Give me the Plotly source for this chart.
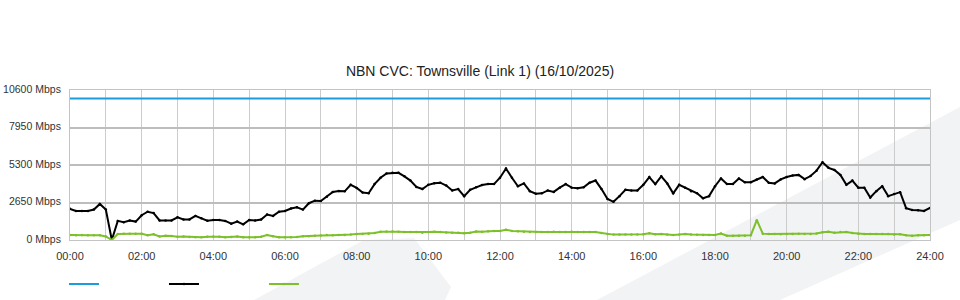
import plotly.graph_objects as go

# sample times (minutes after midnight, 10-minute samples)
minutes = list(range(0, 1441, 10))

capacity_mbps = [10000] * len(minutes)

download_mbps = [
    2200, 2050, 2050, 2050, 2150, 2550, 2150, 0, 1350, 1250,
    1370, 1300, 1750, 2000, 1900, 1380, 1380, 1380, 1600, 1450,
    1450, 1700, 1530, 1365, 1415, 1415, 1350, 1150, 1300, 1107,
    1415, 1380, 1450, 1800, 1700, 2000, 2050, 2220, 2310, 2150,
    2600, 2780, 2760, 3050, 3400, 3460, 3440, 3900, 3680, 3350,
    3300, 3950, 4400, 4700, 4750, 4750, 4500, 4200, 3750, 3600,
    3900, 4005, 4050, 3850, 3500, 3600, 3100, 3550, 3720, 3880,
    3960, 3950, 4400, 5050, 4400, 3800, 4000, 3450, 3270, 3300,
    3500, 3400, 3700, 3950, 3700, 3650, 3720, 4050, 4200, 3600,
    2900, 2700, 3100, 3550, 3500, 3500, 3900, 4450, 3950, 4500,
    4000, 3300, 3900, 3700, 3450, 3300, 2950, 3100, 3800, 4350,
    3950, 3960, 4350, 4080, 4080, 4280, 4450, 4050, 4000, 4280,
    4450, 4550, 4600, 4300, 4520, 4900, 5500, 5100, 4950, 4600,
    3900, 4200, 3700, 3700, 3000, 3450, 3800, 3100, 3250, 3380,
    2250, 2120, 2100, 2050, 2270,
]

upload_mbps = [
    350, 330, 360, 330, 330, 330, 250, 0, 420, 450,
    450, 450, 440, 330, 400, 250, 300, 280, 230, 240,
    220, 190, 200, 230, 240, 230, 200, 220, 250, 200,
    190, 190, 230, 350, 260, 200, 200, 190, 210, 270,
    260, 300, 310, 350, 340, 360, 360, 380, 420, 430,
    450, 500, 580, 600, 600, 590, 560, 560, 570, 520,
    560, 580, 560, 530, 520, 510, 470, 520, 600, 580,
    620, 640, 630, 730, 640, 620, 580, 570, 560, 570,
    560, 580, 570, 560, 580, 560, 570, 560, 570, 500,
    420, 380, 390, 380, 380, 380, 400, 480, 400, 420,
    380, 360, 380, 420, 380, 370, 360, 360, 350, 460,
    300, 300, 300, 300, 340, 1400, 450, 420, 420, 410,
    420, 430, 440, 420, 430, 460, 550, 580, 520, 560,
    560, 500, 450, 430, 420, 420, 430, 420, 390, 400,
    330, 300, 330, 340, 360,
]

x_tick_hours = list(range(0, 25, 2))
x_tick_labels = ["00:00", "02:00", "04:00", "06:00", "08:00", "10:00", "12:00",
                 "14:00", "16:00", "18:00", "20:00", "22:00", "24:00"]
y_tick_values = [0, 2650, 5300, 7950, 10600]
y_tick_labels = ["0 Mbps", "2650 Mbps", "5300 Mbps", "7950 Mbps", "10600 Mbps"]

hours = [m / 60 for m in minutes]

fig = go.Figure()
fig.add_trace(go.Scatter(x=hours, y=capacity_mbps, mode="lines", name="",
                         line=dict(color="#1b9ddb", width=2)))
fig.add_trace(go.Scatter(x=hours, y=download_mbps, mode="lines+markers", name="",
                         line=dict(color="#000000", width=2),
                         marker=dict(size=2.5, color="#000000")))
fig.add_trace(go.Scatter(x=hours, y=upload_mbps, mode="lines+markers", name="",
                         line=dict(color="#7cc02a", width=2),
                         marker=dict(size=2.5, color="#7cc02a")))

# faint background watermark
fig.add_shape(type="path", xref="paper", yref="paper", layer="below",
              path="M 0.2140,-0.4 L 0.3419,0.0 L 0.4,0.0133 L 0.4430,-0.3133 L 0.4360,-0.4 Z",
              fillcolor="#f2f3f5", line=dict(width=0))
fig.add_shape(type="path", xref="paper", yref="paper", layer="below",
              path="M 0.6128,-0.4 L 1.0349,0.8867 L 1.0349,0.1333 L 0.8256,-0.4 Z",
              fillcolor="#f2f3f5", line=dict(width=0))

fig.update_layout(
    width=960, height=300,
    margin=dict(l=70, r=30, t=90, b=60),
    paper_bgcolor="white", plot_bgcolor="rgba(0,0,0,0)",
    font=dict(family="Liberation Sans, Arial, sans-serif", size=11, color="#333333"),
    title=dict(text="NBN CVC: Townsville (Link 1) (16/10/2025)", x=0.5, xanchor="center",
               y=1 - 71 / 300, yanchor="middle", yref="container",
               font=dict(size=14, color="#222222")),
    showlegend=True,
    legend=dict(orientation="h", x=-0.007, xanchor="left", xref="paper",
                y=1 - 284 / 300, yanchor="middle", yref="container",
                entrywidth=55, entrywidthmode="pixels", font=dict(size=11),
                bgcolor="rgba(0,0,0,0)"),
    xaxis=dict(range=[0, 24], tickvals=x_tick_hours, ticktext=x_tick_labels,
               showgrid=True, gridcolor="#cccccc", gridwidth=1,
               minor=dict(dtick=1, showgrid=True, gridcolor="#cccccc", gridwidth=1),
               showline=True, linecolor="#c4c4c4", linewidth=1, mirror=True,
               zeroline=False, ticks="", ticklabelstandoff=6, fixedrange=True,
               automargin=False),
    yaxis=dict(range=[0, 10600], tickvals=y_tick_values, ticktext=y_tick_labels,
               tickfont=dict(size=10.5),
               showgrid=True, gridcolor="#bdbdbd", gridwidth=1.5,
               showline=True, linecolor="#c4c4c4", linewidth=1, mirror=True,
               zeroline=False, ticks="", ticklabelstandoff=6, ticklabelshift=-1,
               fixedrange=True, automargin=False),
)

fig.write_html("out.html")
